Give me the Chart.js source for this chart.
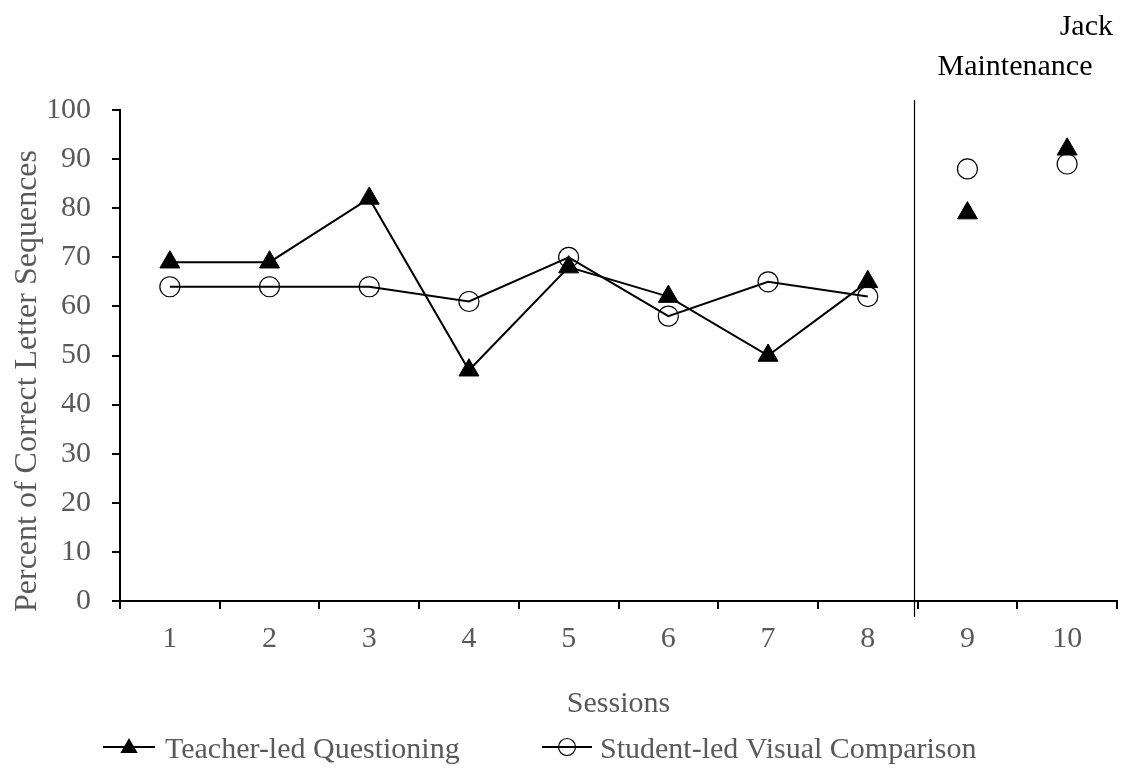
<!DOCTYPE html>
<html>
<head>
<meta charset="utf-8">
<script src="https://cdn.jsdelivr.net/npm/chart.js@4.4.1/dist/chart.umd.min.js"></script>
<style>
  html, body { margin: 0; padding: 0; background: #ffffff; }
  #wrap { width: 1131px; height: 771px; position: relative; }
</style>
</head>
<body>
<div id="wrap"><canvas id="c" width="1131" height="771"></canvas></div>
<script>
// ---- data ----
const sessions = ['1', '2', '3', '4', '5', '6', '7', '8', '9', '10'];
const teacherLed = [69, 69, 82, 47, 68, 62, 50, 65, 79, 92];
const studentLed = [64, 64, 64, 61, 70, 58, 65, 62, 88, 89];
const yMin = 0;
const yMax = 100;
const yStep = 10;
const seriesNames = ['Teacher-led Questioning', 'Student-led Visual Comparison'];
const xTitle = 'Sessions';
const yTitle = 'Percent of Correct Letter Sequences';
const participant = 'Jack';
const phaseLabel = 'Maintenance';
const lastBaselineIndex = 7; // session 8 ends the connected phase

// ---- styling ----
const FONT = '"Liberation Serif", "Times New Roman", serif';
const GRAY = '#595959';

const overlay = {
  id: 'overlay',
  afterDraw(chart) {
    const ctx = chart.ctx;
    const xs = chart.scales.x;
    const ca = chart.chartArea;
    ctx.save();
    // phase divider
    const p0 = xs.getPixelForValue(lastBaselineIndex);
    const p1 = xs.getPixelForValue(lastBaselineIndex + 1);
    const xd = Math.round(p0 + (p1 - p0) * 0.46) + 0.5;
    ctx.strokeStyle = '#000';
    ctx.lineWidth = 1.2;
    ctx.beginPath();
    ctx.moveTo(xd, ca.top - 10);
    ctx.lineTo(xd, ca.bottom + 16);
    ctx.stroke();

    // top-right labels
    ctx.font = '30px ' + FONT;
    ctx.fillStyle = '#000';
    ctx.textBaseline = 'alphabetic';
    ctx.textAlign = 'right';
    ctx.fillText(participant, 1113, 35);
    ctx.textAlign = 'center';
    ctx.fillText(phaseLabel, 1015, 75);

    // axis titles
    ctx.fillStyle = GRAY;
    ctx.textAlign = 'center';
    ctx.fillText(xTitle, (ca.left + ca.right) / 2, 712);
    ctx.save();
    ctx.font = '32px ' + FONT;
    ctx.translate(36, 381);
    ctx.rotate(-Math.PI / 2);
    ctx.fillText(yTitle, 0, 0);
    ctx.restore();

    // legend
    const ly = 747;
    ctx.strokeStyle = '#000';
    ctx.lineWidth = 2;
    ctx.beginPath(); ctx.moveTo(103, ly); ctx.lineTo(155, ly); ctx.stroke();
    ctx.fillStyle = '#000';
    const tcx = 129, tcy = 748, tr = 10;
    ctx.beginPath();
    ctx.moveTo(tcx, tcy - tr);
    ctx.lineTo(tcx - tr * 0.866, tcy + tr / 2);
    ctx.lineTo(tcx + tr * 0.866, tcy + tr / 2);
    ctx.closePath();
    ctx.fill();

    ctx.beginPath(); ctx.moveTo(542, ly); ctx.lineTo(592, ly); ctx.stroke();
    ctx.lineWidth = 1.2;
    ctx.beginPath(); ctx.arc(567, ly, 8.5, 0, Math.PI * 2); ctx.stroke();

    ctx.fillStyle = GRAY;
    ctx.textAlign = 'left';
    ctx.fillText(seriesNames[0], 165, 758);
    ctx.fillText(seriesNames[1], 600, 758);
    ctx.restore();
  }
};

const segStyle = {
  borderColor: c => (c.p0DataIndex >= lastBaselineIndex ? 'rgba(0,0,0,0)' : '#000')
};

new Chart(document.getElementById('c'), {
  type: 'line',
  data: {
    labels: sessions,
    datasets: [
      {
        label: seriesNames[0],
        data: teacherLed,
        borderColor: '#000',
        borderWidth: 2,
        pointStyle: 'triangle',
        pointRadius: 11.5,
        pointBackgroundColor: '#000',
        pointBorderColor: '#000',
        pointBorderWidth: 1,
        segment: segStyle,
        tension: 0,
        clip: false
      },
      {
        label: seriesNames[1],
        data: studentLed,
        borderColor: '#000',
        borderWidth: 2,
        pointStyle: 'circle',
        pointRadius: 10,
        pointBackgroundColor: 'rgba(0,0,0,0)',
        pointBorderColor: '#000',
        pointBorderWidth: 1.2,
        segment: segStyle,
        tension: 0,
        clip: false
      }
    ]
  },
  options: {
    responsive: false,
    animation: false,
    devicePixelRatio: 1,
    layout: { padding: { top: 110, right: 14, left: 0, bottom: 0 } },
    plugins: { legend: { display: false }, tooltip: { enabled: false } },
    scales: {
      x: {
        type: 'category',
        offset: true,
        grid: { offset: true, drawOnChartArea: false, drawTicks: true, tickLength: 8, color: '#000', lineWidth: 2 },
        border: { color: '#000', width: 2 },
        ticks: { font: { family: FONT, size: 30 }, color: GRAY, padding: 12, maxRotation: 0, autoSkip: false },
        afterFit(s) { s.height = 170; }
      },
      y: {
        min: yMin,
        max: yMax,
        grid: { drawOnChartArea: false, drawTicks: true, tickLength: 8, color: '#000', lineWidth: 2 },
        border: { color: '#000', width: 2 },
        ticks: { stepSize: yStep, font: { family: FONT, size: 30 }, color: GRAY, padding: 21 },
        afterFit(s) { s.width = 120; }
      }
    }
  },
  plugins: [overlay]
});
</script>
</body>
</html>
